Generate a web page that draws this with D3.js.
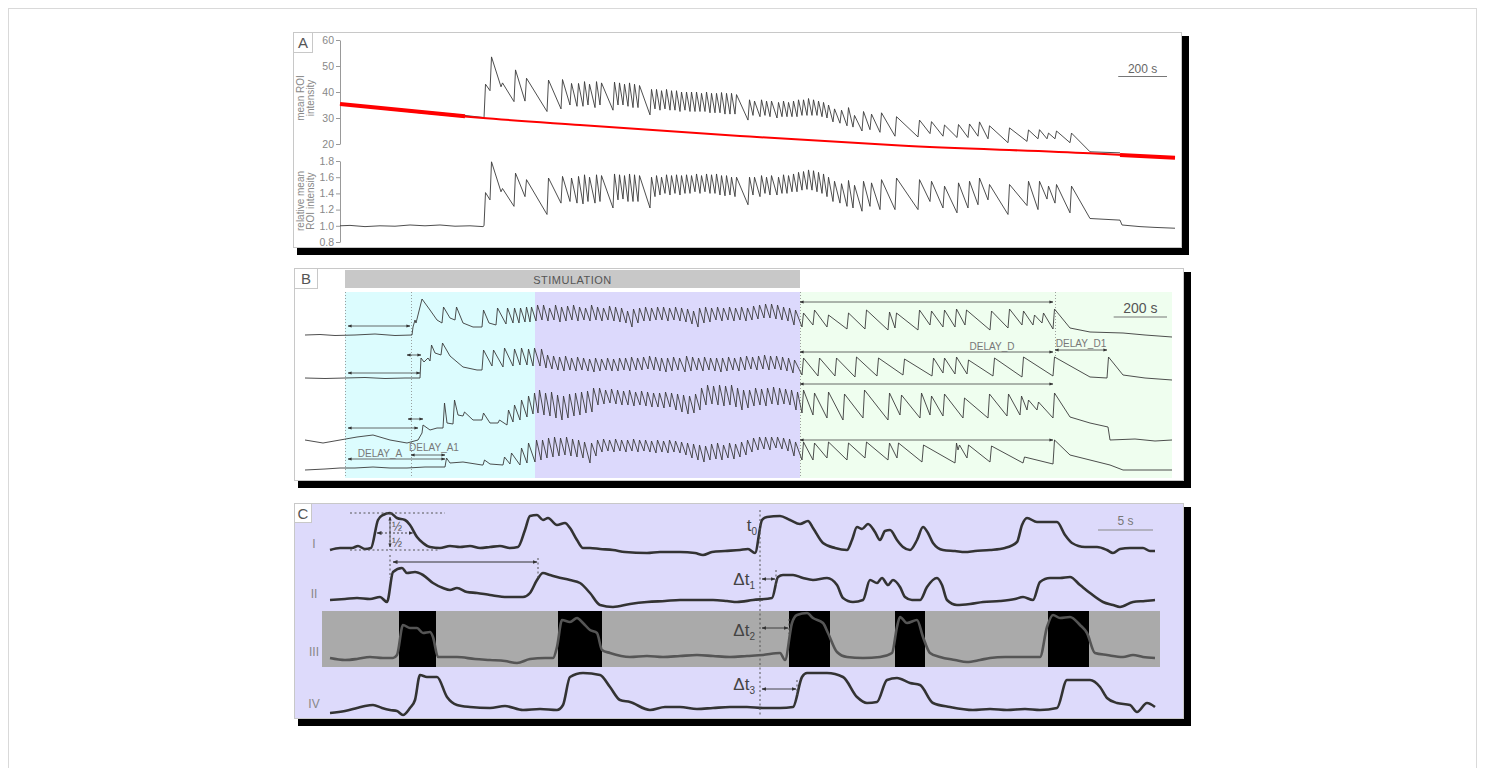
<!DOCTYPE html>
<html><head><meta charset="utf-8">
<script src="https://cdn.jsdelivr.net/npm/d3@7"></script>
<style>body{margin:0;background:#fff;} svg{display:block;font-family:"Liberation Sans",Arial,sans-serif;}</style>
</head><body><svg id="c" width="1485" height="768"></svg>
<script>
// ---------------- Panel A data (sample index, ~4.1 s per sample) ----------------
const SAMPLE_A = 4.1;
const rawTicks = [20, 30, 40, 50, 60];
const relTicks = [0.8, 1.0, 1.2, 1.4, 1.6, 1.8];
const aSpikeT = [144,150,161,174,185,207,221,230,237,243,
  248,255,260,273,278,283,288,293,298,310,
  315,320,325,330,335,340,345,350,355,360,
  365,370,375,380,385,390,395,408,413,420,
  425,430,437,442,447,452,457,462,467,472,
  477,482,487,493,500,507,513,522,530,540,
  555,578,590,603,617,628,638,648,668,687,
  698,707,715,730];
const aRawTrough = [30,40.5,42,36.3,36.5,32.5,33.5,35,34.5,34.5,
  35,34,35,33,35,35,34.5,34,34,31.2,
  33.5,33,33.5,33,33,32.5,33,32.5,32.5,32.5,
  32.5,32,32,32,31.5,31.5,31.5,29.2,31,30.5,
  31,30.5,30,30.5,30.5,30.5,30.5,31,31,31,
  31,30.5,30,28.5,28,27,26.5,25,25.5,24.5,
  23,22.7,24,23,22.5,22.5,23,22,20.5,21,
  22,22,22,20.5];
const aRawPeak = [43,53.5,43.5,48.5,45.3,44.6,44.8,43.3,43.3,44,
  43,44,43.5,43.8,43.5,43,43.5,43,42.5,41,
  41,40.5,41,40.5,40.5,40,40,40,40,39.5,
  40,39.5,39.5,39.8,39.5,39.5,39,37,36.5,37,
  36.5,36.5,36,36.5,36,36.5,37,37,37.5,37,
  36.5,36,35,33.5,33,34,31,32.5,31.5,32,
  30.5,29.2,28.6,27.3,27.5,27.7,28.5,27,26.2,25.4,
  25.5,24.2,25,24.2];
const aRelTrough = [1.0,1.32,1.42,1.24,1.36,1.14,1.28,1.3,1.28,1.27,
  1.3,1.28,1.3,1.22,1.32,1.33,1.3,1.3,1.3,1.22,
  1.36,1.38,1.4,1.38,1.4,1.38,1.4,1.4,1.42,1.4,
  1.42,1.4,1.4,1.38,1.37,1.38,1.36,1.26,1.38,1.36,
  1.4,1.38,1.38,1.4,1.4,1.42,1.42,1.44,1.45,1.44,
  1.42,1.4,1.36,1.3,1.28,1.24,1.22,1.18,1.24,1.2,
  1.2,1.2,1.3,1.22,1.16,1.22,1.26,1.32,1.14,1.25,
  1.2,1.33,1.28,1.16];
const aRelPeak = [1.41,1.79,1.46,1.65,1.57,1.59,1.61,1.59,1.61,1.63,
  1.6,1.63,1.62,1.64,1.63,1.62,1.64,1.63,1.62,1.6,
  1.62,1.6,1.63,1.62,1.63,1.62,1.63,1.62,1.64,1.62,
  1.64,1.63,1.64,1.62,1.62,1.6,1.6,1.6,1.6,1.62,
  1.6,1.62,1.6,1.63,1.62,1.64,1.66,1.67,1.69,1.68,
  1.66,1.64,1.6,1.55,1.52,1.56,1.5,1.55,1.53,1.57,
  1.59,1.57,1.55,1.49,1.53,1.55,1.59,1.51,1.51,1.55,
  1.55,1.49,1.51,1.49];
const aRawPre = [[0,35.3],[30,34.3],[60,33.4],[90,32.3],[120,31.2],[143,30.2]];
const aRawPost = [[750,17.0],[765,16.8],[780,16.6]];
const aRelPre = [[0,1.0],[10,1.005],[25,0.99],[40,1.0],[55,0.995],[70,1.01],[85,1.0],[100,1.01],[115,0.995],[130,1.0],[143,0.99]];
const aRelPost = [[750,1.09],[765,1.08],[780,1.07],[782,1.01],[800,0.99],[815,0.98],[835,0.97]];
const aFitT = [0,140,240,400,560,750,835];
const aFitV = [35.4,30.1,27.3,23.1,19.4,16.4,14.7];
const aFitThick = [[0,125],[780,835]];

// ---------------- Panel B data (sample index, 3.75 s per sample) ----------------
const SAMPLE_B = 3.75;
const bPhases = [40, 230, 495, 867];   // stim start, fast-phase start, stim end, record end
const bMarks = [40, 106, 495, 750];
const bTrace1 = [[0,1.0],[15,1.005],[30,0.995],[50,1.0],[70,1.01],[90,0.995],[107,1.0],
 [108,1.08],[110,1.15],[111,1.12],[117,1.36],[125,1.25],[132,1.15],
 [137,1.12,1.28],[145,1.17],[150,1.15,1.28],[158,1.12],[168,1.08],
 [177,1.08,1.25],[184,1.12],[191,1.1,1.27],[201,1.11,1.27],[208,1.12,1.27],[214,1.12,1.27],[220,1.13,1.28],[225,1.13,1.28],[231,1.14,1.3],
 [237,1.15,1.3],[243,1.14,1.27],[249,1.15,1.3],[255,1.13,1.28],[261,1.14,1.29],[267,1.15,1.3],[273,1.14,1.28],[279,1.15,1.27],[285,1.14,1.3],[291,1.15,1.28],
 [297,1.14,1.27],[303,1.15,1.29],[309,1.14,1.28],[315,1.13,1.27],[321,1.12,1.24],[327,1.08,1.26],[333,1.12,1.27],[339,1.14,1.28],[345,1.14,1.27],[351,1.15,1.28],
 [357,1.15,1.28],[363,1.14,1.27],[369,1.15,1.28],[375,1.14,1.27],[381,1.13,1.26],[387,1.11,1.24],[393,1.08,1.27],[399,1.12,1.28],[405,1.13,1.27],[411,1.15,1.28],
 [417,1.14,1.27],[423,1.15,1.28],[429,1.14,1.27],[435,1.15,1.28],[441,1.14,1.27],[447,1.15,1.29],[453,1.16,1.3],[459,1.17,1.31],[465,1.17,1.31],[471,1.16,1.3],
 [477,1.15,1.28],[483,1.14,1.27],[489,1.1,1.25],
 [497,1.08,1.22],[508,1.1,1.25],[522,1.08,1.2],[542,1.06,1.22],[560,1.06,1.25],[583,1.05,1.23],
 [590,1.07,1.22],[613,1.05,1.25],[625,1.1,1.24],[638,1.08,1.25],[650,1.08,1.26],[660,1.1,1.25],[685,1.05,1.24],[703,1.07,1.26],[717,1.1,1.24],[728,1.1,1.2],[737,1.12,1.22],[748,1.06,1.26],
 [765,1.07],[785,1.03],[818,1.02],[840,1.0],[867,0.98]];
const bTrace2 = [[0,1.0],[20,0.995],[40,1.0],[60,1.005],[80,0.995],[100,1.0],[115,1.0],
 [116,1.2],[119,1.16],[123,1.2],[125,1.17,1.33],[130,1.25],[136,1.23,1.35],[145,1.22],[158,1.11],[172,1.08],
 [177,1.08,1.28],[187,1.12,1.28],[198,1.11,1.3],[208,1.12,1.29],[215,1.13,1.3],[222,1.13,1.29],[228,1.12,1.3],[235,1.12,1.29],
 [241,1.1,1.23],[247,1.09,1.22],[253,1.08,1.21],[259,1.07,1.22],[265,1.08,1.2],[271,1.07,1.21],[277,1.08,1.2],[283,1.07,1.19],[289,1.06,1.2],[295,1.07,1.19],
 [301,1.08,1.2],[307,1.07,1.19],[313,1.07,1.2],[319,1.08,1.2],[325,1.07,1.21],[331,1.08,1.2],[337,1.08,1.21],[343,1.09,1.22],[349,1.08,1.21],[355,1.07,1.2],
 [361,1.06,1.2],[367,1.07,1.21],[373,1.08,1.2],[380,1.06,1.22],[386,1.07,1.21],[392,1.08,1.2],[398,1.07,1.21],[404,1.08,1.2],[410,1.07,1.2],[416,1.06,1.2],
 [422,1.07,1.21],[428,1.08,1.2],[434,1.07,1.21],[440,1.08,1.22],[446,1.09,1.21],[452,1.08,1.22],[458,1.09,1.23],[464,1.08,1.22],[470,1.09,1.22],[476,1.08,1.21],
 [482,1.07,1.2],[488,1.05,1.18],
 [497,1.03,1.2],[513,1.02,1.2],[530,1.02,1.2],[550,1.01,1.21],[572,1.02,1.2],[598,1.03,1.19],[627,1.02,1.2],[638,1.05,1.2],[650,1.04,1.21],[662,1.04,1.18],[688,1.02,1.2],[717,1.01,1.21],[748,1.02,1.21],
 [785,1.01],[802,1.0,1.21],[818,1.03],[840,1.0],[867,0.98]];
const bTrace3 = [[0,1.0],[18,0.97],[35,1.0],[52,1.03],[68,1.05],[85,1.0],[102,0.97],[113,1.0],
 [117,1.07],[118,1.15],[125,1.1],[132,1.12],[138,1.12,1.37],[142,1.17],[148,1.16,1.4],[153,1.25],[158,1.24,1.28],[168,1.2],[177,1.2,1.27],[185,1.17],[193,1.17,1.2],
 [202,1.15,1.3],[208,1.18,1.35],[215,1.2,1.4],[222,1.23,1.44],[228,1.26,1.47],[233,1.27,1.5],
 [239,1.25,1.47],[245,1.24,1.48],[251,1.22,1.45],[257,1.2,1.44],[263,1.22,1.46],[269,1.24,1.47],[275,1.25,1.48],[281,1.27,1.49],[287,1.28,1.52],[293,1.35,1.52],
 [299,1.36,1.5],[305,1.37,1.51],[311,1.36,1.5],[317,1.35,1.49],[323,1.35,1.5],[329,1.34,1.48],[335,1.35,1.49],[341,1.34,1.48],[347,1.33,1.47],[353,1.33,1.47],
 [359,1.32,1.48],[365,1.33,1.47],[371,1.3,1.46],[377,1.28,1.45],[383,1.26,1.44],[389,1.27,1.46],[395,1.3,1.52],[401,1.35,1.55],[407,1.36,1.54],[413,1.35,1.55],
 [419,1.34,1.54],[425,1.35,1.55],[431,1.33,1.52],[437,1.3,1.5],[443,1.32,1.5],[449,1.34,1.52],[455,1.35,1.51],[461,1.34,1.52],[467,1.36,1.53],[473,1.35,1.52],
 [479,1.36,1.51],[485,1.35,1.5],[491,1.3,1.48],
 [497,1.27,1.5],[508,1.25,1.47],[522,1.22,1.48],[538,1.2,1.46],[558,1.22,1.5],[583,1.2,1.47],[595,1.25,1.45],[615,1.22,1.47],[625,1.25,1.44],[638,1.24,1.46],
 [658,1.22,1.42],[683,1.22,1.46],[702,1.24,1.46],[715,1.25,1.44],[722,1.3,1.4],[732,1.3,1.38],[748,1.22,1.47],
 [765,1.23],[785,1.17],[803,1.13],[805,1.0],[830,1.01],[850,0.99],[867,1.0]];
const bTrace4 = [[0,1.0],[20,1.01],[35,1.02],[50,1.02],[68,1.03],[85,1.02],[102,1.02],[120,1.03],[135,1.03],[140,1.03,1.12],[145,1.07],[158,1.08],[177,1.05],[178,1.05,1.1],[185,1.06],
 [198,1.05,1.13],[205,1.06,1.17],[215,1.05,1.22],[222,1.07,1.27],[230,1.08,1.3],
 [236,1.1,1.3],[242,1.12,1.32],[248,1.13,1.33],[254,1.14,1.32],[260,1.15,1.33],[266,1.14,1.31],[272,1.13,1.3],[278,1.12,1.28],[285,1.07,1.27],[291,1.14,1.3],
 [297,1.18,1.31],[303,1.19,1.3],[309,1.18,1.31],[315,1.19,1.3],[321,1.18,1.3],[327,1.19,1.31],[333,1.18,1.3],[339,1.19,1.3],[345,1.18,1.29],[351,1.17,1.3],
 [357,1.18,1.29],[363,1.17,1.3],[369,1.18,1.29],[375,1.17,1.28],[381,1.15,1.27],[387,1.12,1.26],[393,1.1,1.25],[399,1.08,1.24],[405,1.1,1.26],[411,1.11,1.27],
 [417,1.1,1.25],[423,1.12,1.27],[429,1.11,1.26],[435,1.13,1.28],[441,1.15,1.3],[447,1.18,1.32],[453,1.2,1.33],[459,1.21,1.33],[465,1.2,1.33],[471,1.22,1.33],
 [477,1.21,1.32],[483,1.19,1.31],[489,1.14,1.28],
 [497,1.1,1.28],[508,1.1,1.27],[522,1.12,1.28],[542,1.1,1.27],[560,1.12,1.28],[583,1.1,1.27],[592,1.12,1.27],[617,1.08,1.25],[650,1.07,1.27],[653,1.2,1.25],
 [662,1.12,1.25],[685,1.08,1.24],[718,1.07,1.13],[748,1.06,1.3],
 [765,1.15],[785,1.1],[805,1.05],[818,1.0],[840,1.0],[867,1.0]];
const bTraces = [bTrace1, bTrace2, bTrace3, bTrace4];
// delay arrows: [trace, level, from, to]
const bDelayArrows = [[0,1.09,43,105],[1,1.05,43,115],[1,1.23,102,116],[2,1.12,43,113],[2,1.21,103,118],[3,1.11,43,140],[3,1.15,106,140],
  [0,1.33,495,748],[1,1.26,495,748],[1,1.28,750,802],[2,1.56,495,748],[3,1.3,495,748]];

// ---------------- Panel C data (frames, 11 frames per s) ----------------
const FPS_C = 11;
const cRowLabels = ["I", "II", "III", "IV"];
const cI = [[0,0],[10,2],[22,2],[28,4],[35,1],[41,2],[48,30],[53,35],[60,37],[67,32],[75,30],[80,25],[87,13],[93,7],[100,3],[110,2],[120,4],[130,3],[140,4],[150,2],
 [160,3],[170,4],[180,2],[188,3],[195,20],[200,34],[207,35],[213,30],[218,32],[227,25],[235,27],[240,22],[247,10],[253,2],[260,2],[270,1],[283,0],[295,-2],[317,-3],[330,-2],
 [350,-2],[365,-3],[373,-5],[382,-2],[395,-1],[410,0],[418,1],[425,-3],[432,30],[437,33],[450,34],[460,30],[470,26],[478,29],[483,22],[493,7],[505,2],[517,0],[522,10],[527,23],
 [532,21],[538,26],[545,18],[550,10],[555,19],[560,20],[567,10],[573,3],[580,0],[587,10],[593,23],[598,17],[603,7],[613,0],[625,-1],[635,-2],[645,-1],[660,0],[675,2],[687,8],
 [692,25],[697,32],[707,28],[727,28],[735,15],[742,7],[755,3],[767,3],[777,0],[783,-3],[790,1],[800,2],[813,2],[820,-1],[825,-1]];
const cII = [[0,0],[15,1],[27,2],[40,1],[50,3],[57,-2],[63,28],[72,32],[77,27],[85,28],[93,25],[103,17],[113,12],[120,10],[127,12],[137,8],[147,7],[160,5],[177,3],[193,3],
 [200,7],[207,20],[213,27],[220,25],[227,23],[240,20],[250,17],[260,7],[270,-5],[283,-7],[300,-4],[317,-2],[335,-1],[350,0],[370,0],[383,0],[397,-1],[407,-2],[423,0],[442,2],
 [448,23],[453,25],[463,25],[473,22],[483,20],[497,22],[507,15],[513,2],[523,-2],[533,0],[540,20],[547,17],[552,22],[558,15],[563,20],[570,13],[575,3],[582,0],[590,0],[597,13],
 [607,22],[612,15],[617,0],[627,-5],[640,-4],[653,-2],[670,-1],[685,1],[693,3],[703,0],[710,18],[720,22],[730,22],[740,23],[750,15],[760,7],[773,-2],[783,-5],[790,-7],[803,-2],
 [815,-1],[825,0]];
const cIII = [[0,0],[15,-2],[27,-1],[40,1],[53,0],[63,0],[67,3],[73,33],[80,30],[87,30],[93,25],[100,26],[103,21],[108,1],[127,1],[145,-1],[160,-2],[175,-3],[187,-5],[200,-1],
 [215,0],[223,0],[227,11],[232,38],[240,36],[247,40],[253,35],[260,28],[267,25],[272,8],[280,5],[300,1],[317,2],[333,1],[350,2],[367,3],[383,2],[400,1],[417,2],[433,3],
 [450,5],[455,-2],[462,35],[467,43],[477,45],[483,40],[493,35],[498,25],[507,6],[517,1],[533,0],[550,1],[562,5],[567,31],[570,41],[577,35],[587,38],[593,21],[600,5],[610,1],
 [625,-2],[637,-4],[650,-2],[660,0],[675,1],[693,1],[710,1],[717,31],[723,43],[730,40],[740,41],[750,33],[757,25],[765,5],[777,3],[793,1],[803,3],[813,1],[825,0]];
const cIV = [[0,-3],[15,-1],[27,2],[35,4],[43,5],[52,2],[60,0],[67,-1],[73,-5],[80,2],[85,10],[90,35],[97,33],[107,33],[117,13],[127,5],[140,3],[160,2],[175,4],[193,0],
 [210,1],[227,0],[233,5],[240,33],[253,37],[270,35],[280,23],[290,10],[300,8],[320,0],[335,3],[350,3],[367,1],[383,2],[400,3],[417,3],[433,2],[450,2],[463,3],[472,33],
 [477,37],[497,37],[513,33],[527,13],[537,7],[547,8],[557,30],[567,32],[580,27],[590,25],[603,7],[620,3],[643,0],[660,1],[677,0],[695,1],[710,0],[727,2],[737,30],[747,30],
 [760,30],[770,23],[777,12],[787,7],[800,5],[807,-2],[817,7],[825,3]];
const cTraces = [cI, cII, cIII, cIV];
const cEvents = [[69,106],[228,272],[459,500],[565,595],[718,759]];
const cT0 = 430;
const cDeltaEnds = [445, 458, 466];

// ---------------- drawing ----------------
const svg = d3.select('#c');
const defs = svg.append('defs');
defs.append('marker').attr('id','ah').attr('viewBox','0 0 10 10').attr('refX',9).attr('refY',5)
  .attr('markerWidth',5).attr('markerHeight',5).attr('orient','auto-start-reverse')
  .append('path').attr('d','M0,1L10,5L0,9z').attr('fill','#333');

svg.append('rect').attr('x',8.5).attr('y',8.5).attr('width',1468).attr('height',800)
  .attr('fill','none').attr('stroke','#d9d9d9');

function panel(x0,y0,x1,y1,fill,label,lw,lh){
  svg.append('rect').attr('x',x0+4).attr('y',y0+4).attr('width',x1-x0+4).attr('height',y1-y0+4).attr('fill','#000');
  svg.append('rect').attr('x',x0+0.5).attr('y',y0+0.5).attr('width',x1-x0).attr('height',y1-y0).attr('fill',fill).attr('stroke','#c8c8c8');
  return function(){
    svg.append('rect').attr('x',x0+0.5).attr('y',y0+0.5).attr('width',lw).attr('height',lh).attr('fill','#fff').attr('stroke','#c8c8c8');
    svg.append('text').attr('x',x0+lw/2+0.5).attr('y',y0+lh/2+6).attr('text-anchor','middle').attr('font-size',15).attr('fill','#555').text(label);
  };
}
function expand(list, rise){
  const pts=[];
  list.forEach(d=>{ pts.push([d[0],d[1]]); if(d.length===3) pts.push([d[0]+rise,d[2]]); });
  return pts;
}

// ===== Panel A =====
const labA = panel(293,32,1181,247,'#fff','A',19,20);
const xA = d3.scaleLinear().domain([0,835]).range([340,1175]);
const yRaw = d3.scaleLinear().domain([20,60]).range([144,40]);
const yRel = d3.scaleLinear().domain([0.8,1.8]).range([242,161]);
function styleAxis(g){
  g.select('.domain').attr('stroke','#999');
  g.selectAll('.tick line').attr('stroke','#999');
  g.selectAll('.tick text').attr('fill','#888').attr('font-size',10.5).attr('font-family','"Liberation Sans",Arial,sans-serif');
}
svg.append('g').attr('transform','translate(340,0)').call(d3.axisLeft(yRaw).tickValues(rawTicks).tickSize(4).tickSizeOuter(0).tickPadding(2)).call(styleAxis);
svg.append('g').attr('transform','translate(340,0)').call(d3.axisLeft(yRel).tickValues(relTicks).tickFormat(d3.format('.1f')).tickSize(4).tickSizeOuter(0).tickPadding(2)).call(styleAxis);
[['mean ROI',304,98],['intensity',314,98],['relative mean',304,201],['ROI intensity',314,201]].forEach(d=>{
  svg.append('text').attr('transform',`translate(${d[1]},${d[2]}) rotate(-90)`).attr('text-anchor','middle')
    .attr('font-size',10).attr('fill','#888').text(d[0]);
});
const rawPts = aRawPre.concat(expand(aSpikeT.map((t,i)=>[t,aRawTrough[i],aRawPeak[i]]),1.5)).concat(aRawPost);
const relPts = aRelPre.concat(expand(aSpikeT.map((t,i)=>[t,aRelTrough[i],aRelPeak[i]]),1.5)).concat(aRelPost);
svg.append('path').attr('d',d3.line().x(d=>xA(d[0])).y(d=>yRaw(d[1]))(rawPts)).attr('fill','none').attr('stroke','#3a3a3a').attr('stroke-width',0.9);
svg.append('path').attr('d',d3.line().x(d=>xA(d[0])).y(d=>yRel(d[1]))(relPts)).attr('fill','none').attr('stroke','#3a3a3a').attr('stroke-width',0.9);
const fitPts = aFitT.map((t,i)=>[t,aFitV[i]]);
const fitLine = d3.line().x(d=>xA(d[0])).y(d=>yRaw(d[1])).curve(d3.curveMonotoneX);
svg.append('path').attr('d',fitLine(fitPts)).attr('fill','none').attr('stroke','#f00').attr('stroke-width',2);
const fitInterp = t=>{ for(let i=1;i<aFitT.length;i++){ if(t<=aFitT[i]){ const f=(t-aFitT[i-1])/(aFitT[i]-aFitT[i-1]); return aFitV[i-1]+f*(aFitV[i]-aFitV[i-1]); } } return aFitV[aFitV.length-1]; };
aFitThick.forEach(w=>{
  svg.append('path').attr('d',d3.line().x(d=>xA(d)).y(d=>yRaw(fitInterp(d)))([w[0],w[1]]))
    .attr('fill','none').attr('stroke','#f00').attr('stroke-width',4);
});
{
  const len = xA(200/SAMPLE_A)-xA(0);
  svg.append('line').attr('x1',1167-len).attr('x2',1167).attr('y1',76.5).attr('y2',76.5).attr('stroke','#777').attr('stroke-width',1.2);
  svg.append('text').attr('x',1167-len/2).attr('y',73).attr('text-anchor','middle').attr('font-size',12).attr('fill','#666').text('200 s');
}
labA();

// ===== Panel B =====
const labB = panel(294,268,1183,480,'#fff','B',23,20);
const xB = d3.scaleLinear().domain([0,867]).range([305,1172]);
const bBase = [335,378,440,470];
const yB = bBase.map(b=>d3.scaleLinear().domain([1,1.5]).range([b,b-50]));
const regTop = 292, regBot = 478;
[['#dcfcfe',bPhases[0],bPhases[1]],['#dcd9fc',bPhases[1],bPhases[2]],['#effeef',bPhases[2],bPhases[3]]].forEach(r=>{
  svg.append('rect').attr('x',xB(r[1])).attr('y',regTop).attr('width',xB(r[2])-xB(r[1])).attr('height',regBot-regTop).attr('fill',r[0]);
});
svg.append('rect').attr('x',xB(bPhases[0])).attr('y',270).attr('width',xB(bPhases[2])-xB(bPhases[0])).attr('height',18).attr('fill','#c8c8c8');
svg.append('text').attr('x',(xB(bPhases[0])+xB(bPhases[2]))/2).attr('y',283.5).attr('text-anchor','middle').attr('font-size',11).attr('letter-spacing',0.5).attr('fill','#555').text('STIMULATION');
bMarks.forEach((m,i)=>{
  svg.append('line').attr('x1',xB(m)+0.5).attr('x2',xB(m)+0.5).attr('y1',regTop).attr('y2',i===3?357:regBot)
    .attr('stroke','#888').attr('stroke-width',0.8).attr('stroke-dasharray','1,2');
});
bTraces.forEach((tr,i)=>{
  svg.append('path').attr('d',d3.line().x(d=>xB(d[0])).y(d=>yB[i](d[1]))(expand(tr,1.5)))
    .attr('fill','none').attr('stroke','#3a3a3a').attr('stroke-width',0.9);
});
bDelayArrows.forEach(a=>{
  const y = yB[a[0]](a[1]);
  svg.append('line').attr('x1',xB(a[2])).attr('x2',xB(a[3])).attr('y1',y).attr('y2',y)
    .attr('stroke','#444').attr('stroke-width',0.8).attr('marker-start','url(#ah)').attr('marker-end','url(#ah)');
});
svg.append('text').attr('x',380).attr('y',457).attr('text-anchor','middle').attr('font-size',10).attr('fill','#777').text('DELAY_A');
svg.append('text').attr('x',434).attr('y',451).attr('text-anchor','middle').attr('font-size',10).attr('fill','#777').text('DELAY_A1');
svg.append('text').attr('x',992).attr('y',350).attr('text-anchor','middle').attr('font-size',10).attr('fill','#777').text('DELAY_D');
svg.append('text').attr('x',1081).attr('y',347).attr('text-anchor','middle').attr('font-size',10).attr('fill','#777').text('DELAY_D1');
{
  const len = xB(200/SAMPLE_B)-xB(0);
  svg.append('line').attr('x1',1167-len).attr('x2',1167).attr('y1',317).attr('y2',317).attr('stroke','#777').attr('stroke-width',1.2);
  svg.append('text').attr('x',1167-len/2).attr('y',313).attr('text-anchor','middle').attr('font-size',14).attr('fill','#555').text('200 s');
}
labB();

// ===== Panel C =====
const labC = panel(294,503,1183,718,'#dddafb','C',17,19);
const xC = d3.scaleLinear().domain([0,825]).range([330,1155]);
const cBase = [550,600,658,710];
const yC = cBase.map(b=>d3.scaleLinear().domain([0,35]).range([b,b-35]));
svg.append('rect').attr('x',322).attr('y',611).attr('width',838).attr('height',56).attr('fill','#aaaaaa');
cEvents.forEach(e=>{
  svg.append('rect').attr('x',xC(e[0])).attr('y',611).attr('width',xC(e[1])-xC(e[0])).attr('height',56).attr('fill','#000');
});
cRowLabels.forEach((l,i)=>{
  svg.append('text').attr('x',314).attr('y',cBase[i]-2).attr('text-anchor','middle').attr('font-size',12).attr('fill','#888').text(l);
});
cTraces.forEach((tr,i)=>{
  svg.append('path').attr('d',d3.line().x(d=>xC(d[0])).y(d=>yC[i](d[1])).curve(d3.curveMonotoneX)(tr))
    .attr('fill','none').attr('stroke',i===2?'#555':'#333').attr('stroke-width',2.6).attr('stroke-linejoin','round');
});
// annotations row I / II
const dot = (x1,y1,x2,y2)=>svg.append('line').attr('x1',x1).attr('y1',y1).attr('x2',x2).attr('y2',y2)
  .attr('stroke','#555').attr('stroke-width',1).attr('stroke-dasharray','2,2.5');
dot(xC(20),yC[0](37),xC(115),yC[0](37));
dot(xC(20),yC[0](0),xC(110),yC[0](0));
dot(xC(60),yC[0](37),xC(60),yC[0](0));
dot(xC(60),yC[1](45),xC(60),yC[1](22));
dot(xC(208),yC[1](42),xC(208),yC[1](22));
svg.append('line').attr('x1',xC(47)).attr('x2',xC(83)).attr('y1',yC[0](17)).attr('y2',yC[0](17))
  .attr('stroke','#444').attr('stroke-dasharray','2,2').attr('marker-start','url(#ah)').attr('marker-end','url(#ah)');
svg.append('line').attr('x1',xC(60)).attr('x2',xC(60)).attr('y1',yC[0](33)).attr('y2',yC[0](3))
  .attr('stroke','#444').attr('stroke-width',0.8).attr('marker-start','url(#ah)').attr('marker-end','url(#ah)');
svg.append('text').attr('x',397).attr('y',531).attr('text-anchor','middle').attr('font-size',12).attr('fill','#555').text('½');
svg.append('text').attr('x',397).attr('y',547).attr('text-anchor','middle').attr('font-size',12).attr('fill','#555').text('½');
svg.append('line').attr('x1',xC(63)).attr('x2',xC(207)).attr('y1',yC[1](38)).attr('y2',yC[1](38))
  .attr('stroke','#333').attr('stroke-width',1).attr('marker-start','url(#ah)').attr('marker-end','url(#ah)');
// t0 and delta-t
dot(xC(cT0),510,xC(cT0),716);
const t0 = svg.append('text').attr('x',757).attr('y',531).attr('text-anchor','end').attr('font-size',17).attr('fill','#444');
t0.append('tspan').text('t'); t0.append('tspan').attr('font-size',10).attr('dy',4).text('0');
const dRows = [1,2,3];
cDeltaEnds.forEach((e,k)=>{
  const row = dRows[k];
  const yArr = [579,628,689][k];
  const yTxt = [585,636,690][k];
  svg.append('line').attr('x1',xC(cT0)+2).attr('x2',xC(e)).attr('y1',yArr).attr('y2',yArr)
    .attr('stroke','#333').attr('stroke-width',0.9).attr('marker-start','url(#ah)').attr('marker-end','url(#ah)');
  dot(xC(e)+1,yArr-9,xC(e)+1,yArr+6);
  const tx = svg.append('text').attr('x',755).attr('y',yTxt).attr('text-anchor','end').attr('font-size',17).attr('fill','#444');
  tx.append('tspan').text('Δt'); tx.append('tspan').attr('font-size',10).attr('dy',4).text(String(row));
});
{
  const len = xC(5*FPS_C)-xC(0);
  svg.append('line').attr('x1',1153-len).attr('x2',1153).attr('y1',530).attr('y2',530).attr('stroke','#888').attr('stroke-width',1.2);
  svg.append('text').attr('x',1153-len/2).attr('y',525).attr('text-anchor','middle').attr('font-size',12).attr('fill','#777').text('5 s');
}
labC();
</script></body></html>
